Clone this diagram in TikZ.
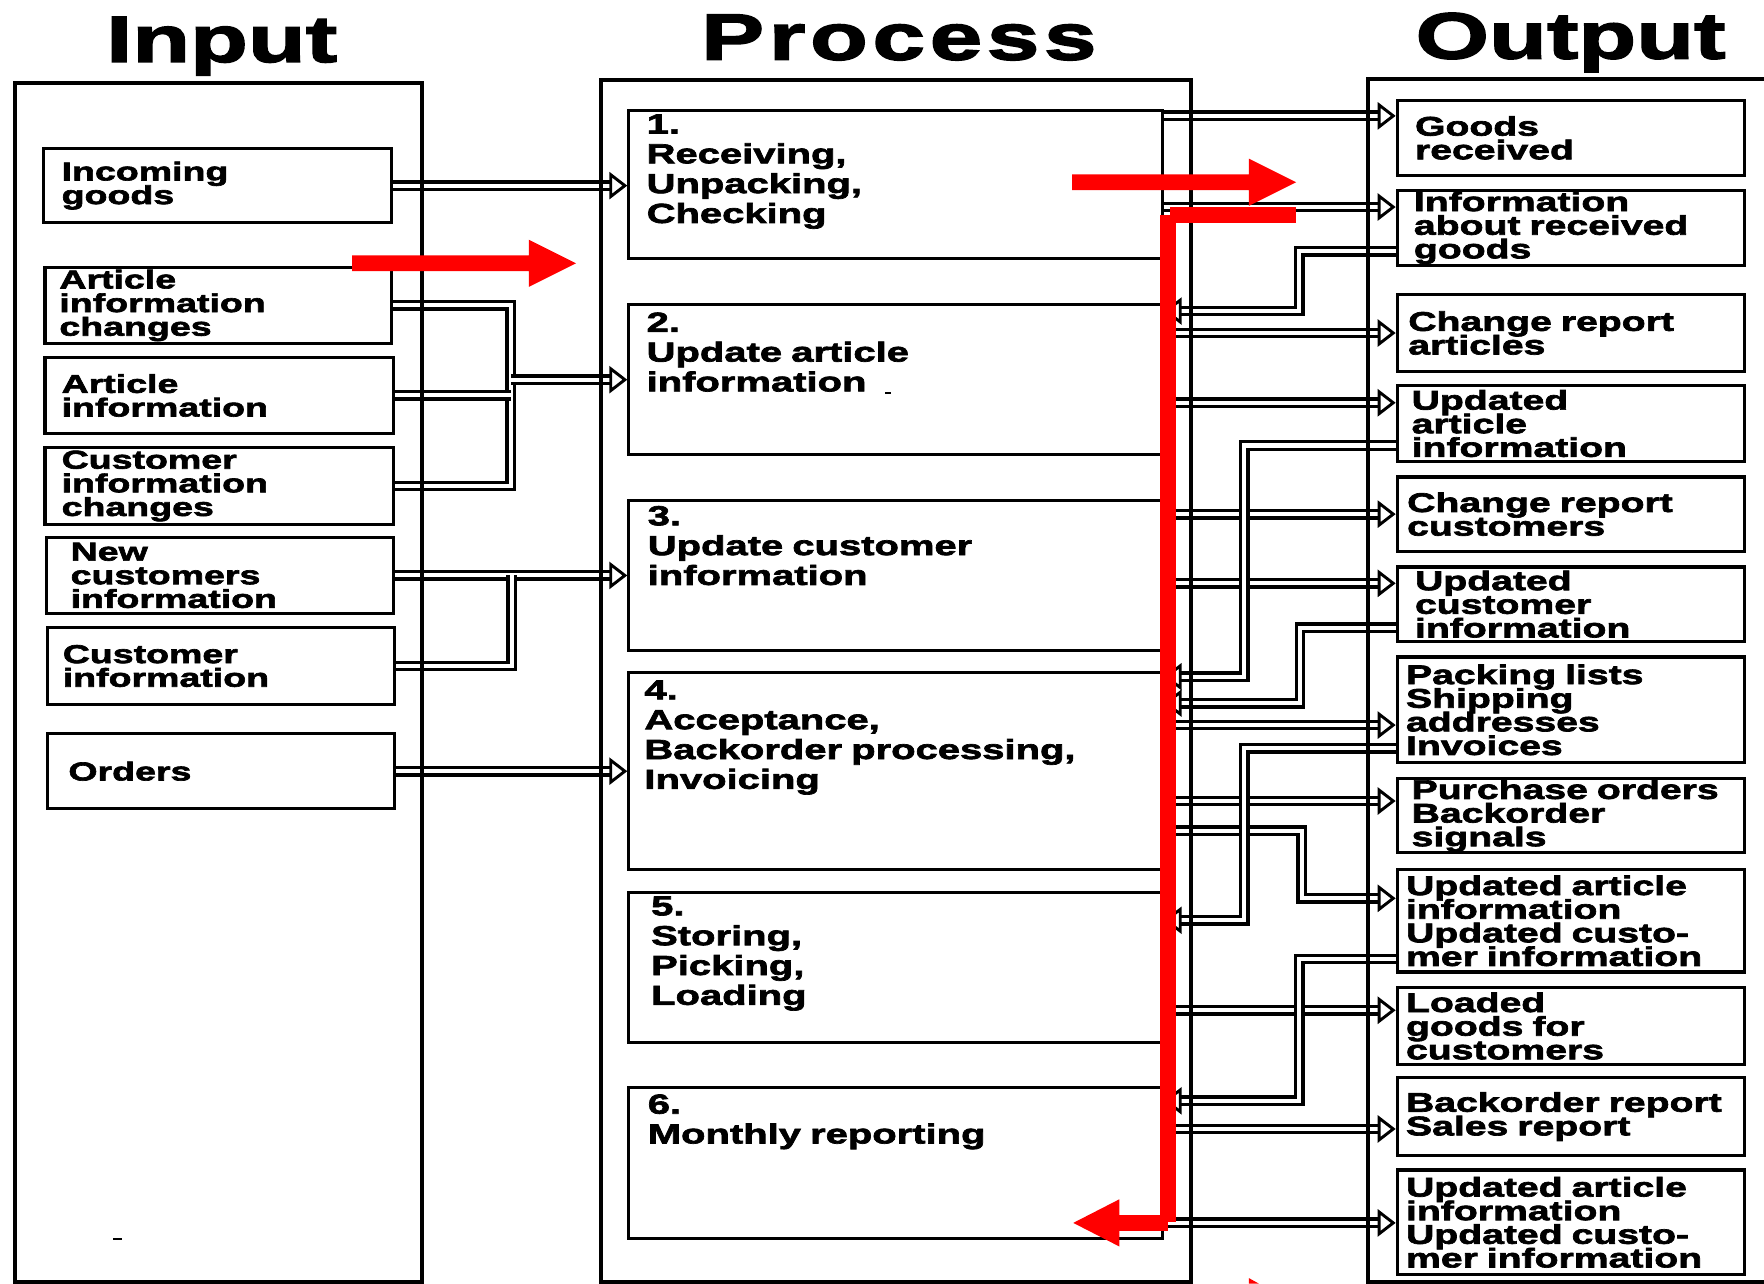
\documentclass[tikz,border=0pt]{standalone}
\usepackage{fontspec}
\usetikzlibrary{arrows.meta}
\newfontfamily\diag{Liberation Sans}[FakeStretch=1.45, WordSpace=2, BoldFeatures={FakeBold=2.5}]
\newcommand\infont{\diag\bfseries\fontsize{23}{21}\selectfont\lineskiplimit=-20pt}
\newcommand\outfont{\diag\bfseries\fontsize{24}{21}\selectfont\lineskiplimit=-20pt}
\newcommand\procfont{\diag\bfseries\fontsize{24.5}{26.5}\selectfont\lineskiplimit=-20pt}
\newcommand\headfont{\diag\bfseries\fontsize{58}{60}\selectfont}
\definecolor{hl}{RGB}{255,0,0}

\tikzset{
  frame/.style={draw, line width=3.5pt},
  box/.style={draw, line width=2.8pt, inner sep=0pt},
  intext/.style={anchor=west, inner sep=0pt, text width=300pt, align=left, font=\infont},
  outtext/.style={anchor=west, inner sep=0pt, text width=300pt, align=left, font=\outfont},
  ptext/.style={anchor=north west, inner sep=0pt, text width=440pt, align=left, font=\procfont},
  heading/.style={anchor=base, inner sep=0pt, font=\headfont},
  joint/.style={draw, line width=3pt, double=white, double distance=3.6pt},
  pipe/.style={joint, -{Triangle[length=16pt, width=24pt, fill=white, line width=2.6pt]}},
}

\begin{document}
\begin{tikzpicture}[x=1pt, y=-1pt]
\useasboundingbox (0,0) rectangle (1568,1141);
\fill[white] (0,0) rectangle (1568,1141);
\clip (0,0) rectangle (1568,1141);

% column headings
\node[heading] (hin)   at (197,55) {Input};
\node[heading] (hproc) at (799,53) {\addfontfeature{LetterSpace=7}Process};
\node[heading] (hout)  at (1396,52) {Output};

% input boxes
\node[box, minimum width=309pt, minimum height=66pt] (I1) at (193.5,165) {};
\node[box, minimum width=308pt, minimum height=67pt] (I2) at (194,271.5) {};
\node[box, minimum width=310pt, minimum height=67pt] (I3) at (195,351.5) {};
\node[box, minimum width=310pt, minimum height=68pt] (I4) at (195,432) {};
\node[box, minimum width=309pt, minimum height=67pt] (I5) at (195.5,511.5) {};
\node[box, minimum width=309pt, minimum height=68pt] (I6) at (196.5,592) {};
\node[box, minimum width=309pt, minimum height=67pt] (I7) at (196.5,685.5) {};

\node[intext] (I1t) at ([xshift=17pt]I1.west) {Incoming\\goods};
\node[intext] (I2t) at ([xshift=14pt]I2.west) {Article\\information\\changes};
\node[intext] (I3t) at ([xshift=16pt]I3.west) {Article\\information};
\node[intext] (I4t) at ([xshift=16pt]I4.west) {Customer\\information\\changes};
\node[intext] (I5t) at ([xshift=23pt]I5.west) {New\\customers\\information};
\node[intext] (I6t) at ([xshift=15pt]I6.west) {Customer\\information};
\node[intext] (I7t) at ([xshift=20pt]I7.west) {Orders};

% process boxes
\node[box, minimum width=474pt, minimum height=132pt] (P1) at (796,164) {};
\node[box, minimum width=474pt, minimum height=133pt] (P2) at (796,337.5) {};
\node[box, minimum width=474pt, minimum height=133pt] (P3) at (796,511.5) {};
\node[box, minimum width=474pt, minimum height=175pt] (P4) at (796,685.5) {};
\node[box, minimum width=474pt, minimum height=134pt] (P5) at (796,860) {};
\node[box, minimum width=474pt, minimum height=134pt] (P6) at (796,1034) {};

\node[ptext] (P1t) at ([xshift=17pt,yshift=-5pt]P1.north west) {1.\\Receiving,\\Unpacking,\\Checking};
\node[ptext] (P2t) at ([xshift=17pt,yshift=-8pt]P2.north west) {2.\\Update article\\information};
\node[ptext] (P3t) at ([xshift=18pt,yshift=-6pt]P3.north west) {3.\\Update customer\\information};
\node[ptext] (P4t) at ([xshift=15pt,yshift=-8pt]P4.north west) {4.\\Acceptance,\\Backorder processing,\\Invoicing};
\node[ptext] (P5t) at ([xshift=21pt,yshift=-5pt]P5.north west) {5.\\Storing,\\Picking,\\Loading};
\node[ptext] (P6t) at ([xshift=18pt,yshift=-7pt]P6.north west) {6.\\Monthly reporting};

% output boxes
\node[box, minimum width=309pt, minimum height=67pt] (O1)  at (1396.5,122.5) {};
\node[box, minimum width=309pt, minimum height=67pt] (O2)  at (1396.5,202.5) {};
\node[box, minimum width=309pt, minimum height=68pt] (O3)  at (1396.5,296) {};
\node[box, minimum width=309pt, minimum height=67pt] (O4)  at (1396.5,376.5) {};
\node[box, minimum width=309pt, minimum height=66pt] (O5)  at (1396.5,457) {};
\node[box, minimum width=309pt, minimum height=66pt] (O6)  at (1396.5,537) {};
\node[box, minimum width=309pt, minimum height=94pt] (O7)  at (1396.5,631) {};
\node[box, minimum width=309pt, minimum height=66pt] (O8)  at (1396.5,725) {};
\node[box, minimum width=309pt, minimum height=91pt] (O9)  at (1396.5,818.5) {};
\node[box, minimum width=309pt, minimum height=68pt] (O10) at (1396.5,912) {};
\node[box, minimum width=309pt, minimum height=69pt] (O11) at (1396.5,992.5) {};
\node[box, minimum width=309pt, minimum height=93pt] (O12) at (1396.5,1086.5) {};

\node[outtext] (O1t)  at ([xshift=17pt]O1.west)  {Goods\\received};
\node[outtext] (O2t)  at ([xshift=16pt]O2.west)  {Information\\about received\\goods};
\node[outtext] (O3t)  at ([xshift=11pt]O3.west)  {Change report\\articles};
\node[outtext] (O4t)  at ([xshift=14pt]O4.west)  {Updated\\article\\information};
\node[outtext] (O5t)  at ([xshift=10pt]O5.west)  {Change report\\customers};
\node[outtext] (O6t)  at ([xshift=17pt]O6.west)  {Updated\\customer\\information};
\node[outtext] (O7t)  at ([xshift=9pt]O7.west)   {Packing lists\\Shipping\\addresses\\Invoices};
\node[outtext] (O8t)  at ([xshift=14pt]O8.west)  {Purchase orders\\Backorder\\signals};
\node[outtext] (O9t)  at ([xshift=9pt]O9.west)   {Updated article\\information\\Updated custo-\\mer information};
\node[outtext] (O10t) at ([xshift=9pt]O10.west)  {Loaded\\goods for\\customers};
\node[outtext] (O11t) at ([xshift=9pt]O11.west)  {Backorder report\\Sales report};
\node[outtext] (O12t) at ([xshift=9pt]O12.west)  {Updated article\\information\\Updated custo-\\mer information};

% inputs to processes
\draw[pipe] (I1.east) -- (I1.east -| P1.west);
\draw[joint] (I2.east) -| (454,432) -- (I4.east);
\draw[joint] (I3.east) -- (I3.east -| 454,0);
\draw[pipe] (P2.west -| 454,0) -- (P2.west);
\draw[pipe] (I5.east) -- (I5.east -| P3.west);
\draw[joint] (I6.east) -| (I5.east -| 455,0);
\draw[pipe] (I7.east) -- (I7.east -| P4.west);

% processes to outputs
\draw[pipe] (P1.east |- 0,103)    -- (O1.west |- 0,103);
\draw[pipe] (P1.east |- 0,184)    -- (O2.west |- 0,184);
\draw[pipe] (P2.east |- 0,296)    -- (O3.west |- 0,296);
\draw[pipe] (P2.east |- 0,358)    -- (O4.west |- 0,358);
\draw[pipe] (P3.east |- 0,457)    -- (O5.west |- 0,457);
\draw[pipe] (P3.east |- 0,518.5)  -- (O6.west |- 0,518.5);
\draw[pipe] (P4.east |- 0,644.5)  -- (O7.west |- 0,644.5);
\draw[pipe] (P4.east |- 0,712)    -- (O8.west |- 0,712);
\draw[pipe] (P4.east |- 0,738.5) -| (1157,798.5) -- (O9.west |- 0,798.5);
\draw[pipe] (P5.east |- 0,898)    -- (O10.west |- 0,898);
\draw[pipe] (P6.east |- 0,1003.5) -- (O11.west |- 0,1003.5);
\draw[pipe] (P6.east |- 0,1087)   -- (O12.west |- 0,1087);

% outputs fed back into processes
\draw[pipe] (O2.west |- 0,223.5) -| (1155,276.5) -- (P2.east |- 0,276.5);
\draw[pipe] (O4.west |- 0,396)   -| (1106,601.5) -- (P4.east |- 0,601.5);
\draw[pipe] (O6.west |- 0,558)   -| (1155.5,625) -- (P4.east |- 0,625);
\draw[pipe] (O7.west |- 0,665)   -| (1106,818)   -- (P5.east |- 0,818);
\draw[pipe] (O9.west |- 0,852.5) -| (1155,978.5) -- (P6.east |- 0,978.5);

% column frames
\draw[frame] (13,73.5) rectangle (375,1139.5);
\draw[frame] (534,71.5) rectangle (1059,1139.5);
\draw[frame] (1216,70) rectangle (1600,1139.5);

% stray specks
\fill (100,1100) rectangle (108,1102.5);
\fill (787,348) rectangle (792,350.5);

% red highlight arrows
\fill[hl] (313,227) -- (470,227) -- (470,213) -- (512,234) -- (470,255) -- (470,241) -- (313,241) -- cycle;
\fill[hl] (953,155) -- (1110,155) -- (1110,141) -- (1152,162) -- (1110,183) -- (1110,169) -- (953,169) -- cycle;
\fill[hl] (1040,184) rectangle (1152,198);
\fill[hl] (1031,191) rectangle (1045,1086);
\fill[hl] (1038,1080) -- (995,1080) -- (995,1066) -- (954,1087) -- (995,1108) -- (995,1094) -- (1038,1094) -- cycle;
\fill[hl] (1110,1136) -- (1119,1141) -- (1110,1141) -- cycle;
\end{tikzpicture}
\end{document}
